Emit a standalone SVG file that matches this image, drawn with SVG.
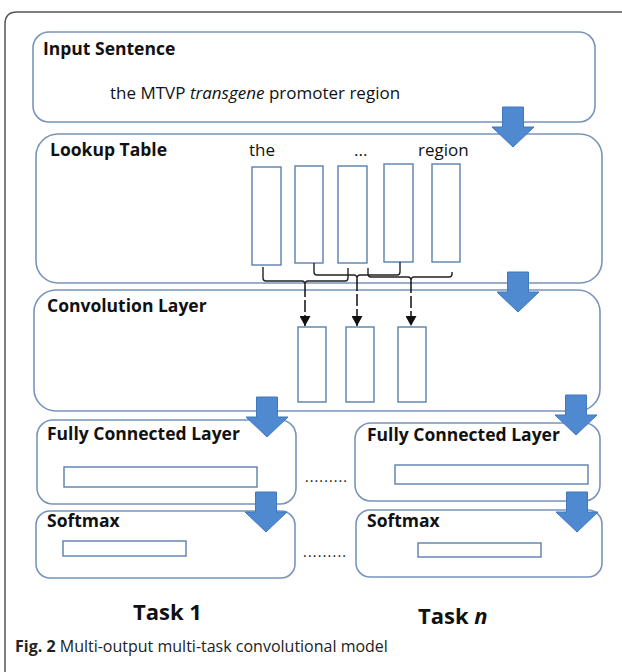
<svg xmlns="http://www.w3.org/2000/svg" width="622" height="672" viewBox="0 0 622 672">
<style>
.box{fill:#fff;stroke:#7894bb;stroke-width:1.6}
.cell{fill:#fff;stroke:#5a7fae;stroke-width:1.4}
.t{font-family:"Open Sans","Noto Sans",sans-serif;fill:#111}
.h{font-weight:bold;font-size:17.5px}
.w{font-size:17px}
.blk{fill:#4f8ad0;stroke:#3f78bc;stroke-width:1}
.br{fill:none;stroke:#222;stroke-width:1.4}
.st{fill:none;stroke:#111;stroke-width:1.5;stroke-dasharray:12 3}
.task{font-family:"Open Sans","Noto Sans",sans-serif;font-weight:bold;font-size:22px;fill:#111}
.cap{font-family:"Open Sans","Noto Sans",sans-serif;font-size:16px;fill:#222}
</style>
<defs>
<path id="blk" d="M-10.5,-40 H10.5 V-20 H21 L0,0 L-21,-20 H-10.5 Z"/>
<marker id="ah" viewBox="0 0 10 10" refX="10" refY="5" markerWidth="10" markerHeight="11" markerUnits="userSpaceOnUse" orient="auto" preserveAspectRatio="none">
<path d="M0,0 L10,5 L0,10 Z" fill="#111"/>
</marker>
</defs>
<rect width="622" height="672" fill="#fff"/>
<path d="M5,672 V24 Q5,12 17,12 H622" fill="none" stroke="#555" stroke-width="1.5"/>

<g id="input">
<rect class="box" x="33" y="32" width="562" height="90" rx="16"/>
<text class="t h" x="43" y="55">Input Sentence</text>
<text class="t w" x="110" y="99">the MTVP <tspan font-style="italic">transgene</tspan> promoter region</text>
</g>

<g id="lookup">
<rect class="box" x="36" y="134" width="566" height="149" rx="22"/>
<text class="t h" x="50" y="156">Lookup Table</text>
<text class="t w" x="249" y="156">the</text>
<text class="t w" x="354" y="156">...</text>
<text class="t w" x="418" y="156">region</text>
<rect class="cell" x="252" y="167" width="29" height="98"/>
<rect class="cell" x="295" y="166" width="28" height="97"/>
<rect class="cell" x="338" y="166" width="29" height="97"/>
<rect class="cell" x="384" y="164" width="29" height="98"/>
<rect class="cell" x="432" y="164" width="28" height="98"/>
</g>

<g id="conv">
<rect class="box" x="34" y="290" width="566" height="121" rx="22"/>
<text class="t h" x="47" y="312">Convolution Layer</text>
<rect class="cell" x="298" y="327" width="28" height="75"/>
<rect class="cell" x="346" y="327" width="28" height="75"/>
<rect class="cell" x="398" y="327" width="28" height="75"/>
</g>

<g id="fc1">
<rect class="box" x="37" y="420" width="259" height="84" rx="16"/>
<text class="t h" x="47" y="440">Fully Connected Layer</text>
<rect class="cell" x="64" y="467" width="193" height="20"/>
</g>
<g id="fcn">
<rect class="box" x="355" y="423" width="245" height="78" rx="16"/>
<text class="t h" x="367" y="441">Fully Connected Layer</text>
<rect class="cell" x="395" y="465" width="193" height="19"/>
</g>
<g id="sm1">
<rect class="box" x="36" y="511" width="259" height="67" rx="14"/>
<text class="t h" x="47" y="527">Softmax</text>
<rect class="cell" x="63" y="541" width="123" height="15"/>
</g>
<g id="smn">
<rect class="box" x="356" y="510" width="246" height="67" rx="14"/>
<text class="t h" x="367" y="527">Softmax</text>
<rect class="cell" x="418" y="543" width="123" height="14"/>
</g>

<g id="connectors">
<path class="br" d="M263,267 V278 Q263,281 266,281 H302 Q305,281 305,285 Q305,281 308,281 H345 Q348,281 348,278 V268"/>
<path class="br" d="M314,263 V272 Q314,275 317,275 H354 Q357,275 357,279 Q357,275 360,275 H397 Q400,275 400,272 V262"/>
<path class="br" d="M368,268 V274 Q368,277 371,277 H408 Q411,277 411,281 Q411,277 414,277 H449 Q452,277 452,274 V272"/>
<line class="st" x1="305" y1="285" x2="305" y2="326" marker-end="url(#ah)"/>
<line class="st" x1="357" y1="279" x2="357" y2="326" marker-end="url(#ah)"/>
<line class="st" x1="411" y1="281" x2="411" y2="326" marker-end="url(#ah)"/>
<use href="#blk" class="blk" x="513" y="147"/>
<use href="#blk" class="blk" x="518" y="312"/>
<use href="#blk" class="blk" x="267" y="437"/>
<use href="#blk" class="blk" x="576" y="435"/>
<use href="#blk" class="blk" x="266" y="532"/>
<use href="#blk" class="blk" x="577" y="532"/>
</g>

<text class="t" x="305" y="482" font-size="14" textLength="42" lengthAdjust="spacing">.........</text>
<text class="t" x="303" y="557" font-size="14" textLength="43" lengthAdjust="spacing">.........</text>

<text class="task" x="133" y="620">Task 1</text>
<text class="task" x="418" y="624">Task <tspan font-style="italic">n</tspan></text>

<text class="cap" x="15" y="652"><tspan font-weight="bold">Fig. 2</tspan> Multi-output multi-task convolutional model</text>
</svg>
